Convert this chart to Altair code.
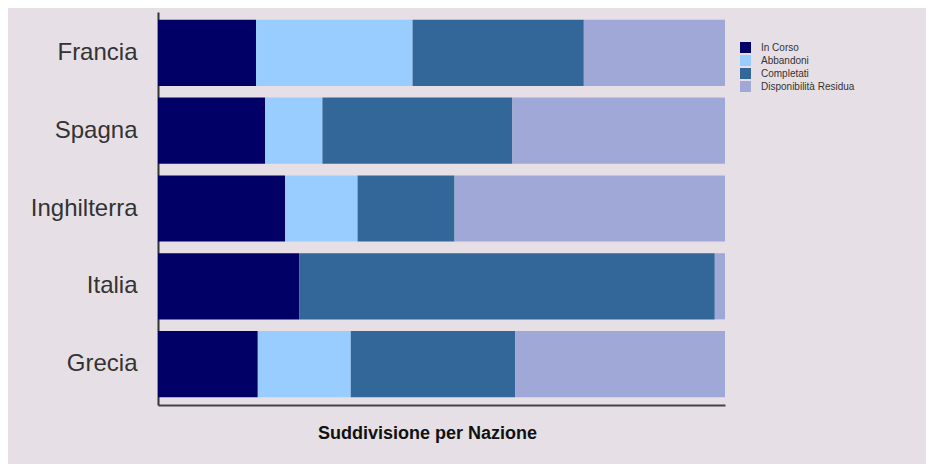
import altair as alt
import pandas as pd

countries = ["Francia", "Spagna", "Inghilterra", "Italia", "Grecia"]
series = ["In Corso", "Abbandoni", "Completati", "Disponibilità Residua"]
colors = ["#000066", "#99CCFF", "#336699", "#9FA8D6"]
in_corso = [17.3, 18.9, 22.4, 24.9, 17.6]
abbandoni = [27.6, 10.1, 12.8, 0.0, 16.4]
completati = [30.2, 33.5, 17.1, 73.3, 29.0]
disponibilita = [24.9, 37.5, 47.7, 1.8, 37.0]

rows = []
for i, c in enumerate(countries):
    for j, (s, vals) in enumerate(zip(series, [in_corso, abbandoni, completati, disponibilita])):
        rows.append({"Nazione": c, "Stato": s, "Valore": vals[i], "ordine": j})
df = pd.DataFrame(rows)

bars = alt.Chart(df).mark_bar().encode(
    y=alt.Y("Nazione:N", sort=countries,
            scale=alt.Scale(paddingInner=0.15, paddingOuter=0.1),
            axis=alt.Axis(title=None, labelFontSize=24, labelColor="#333333",
                          labelFont="Liberation Sans", ticks=False, labelPadding=21,
                          domainColor="#333333", domainWidth=2)),
    x=alt.X("Valore:Q", stack="normalize",
            scale=alt.Scale(domain=[0, 1], nice=False),
            axis=alt.Axis(title="Suddivisione per Nazione", labels=False, ticks=False,
                          grid=False, domainColor="#444444", domainWidth=2,
                          titleFontSize=18, titleFont="Liberation Sans", titleFontWeight="bold",
                          titleColor="#111111", titlePadding=19, titleX=269, titleAlign="center")),
    color=alt.Color("Stato:N", sort=series,
                    scale=alt.Scale(domain=series, range=colors),
                    legend=alt.Legend(title=None, orient="none", legendX=582, legendY=30,
                                      symbolType="square", symbolSize=121, symbolStrokeWidth=0,
                                      labelFontSize=10, labelFont="Liberation Sans",
                                      labelColor="#333333", rowPadding=2, labelOffset=10,
                                      padding=0)),
    order=alt.Order("ordine:Q", sort="ascending"),
)

chart = bars.properties(
    width=567, height=393,
    autosize=alt.AutoSizeParams(type="none"),
    padding={"left": 150, "top": 4, "right": 201, "bottom": 59},
    background="#e6e0e6",
).configure_view(stroke=None)

chart.save("out.html", embed_options={"renderer": "svg", "actions": False})
